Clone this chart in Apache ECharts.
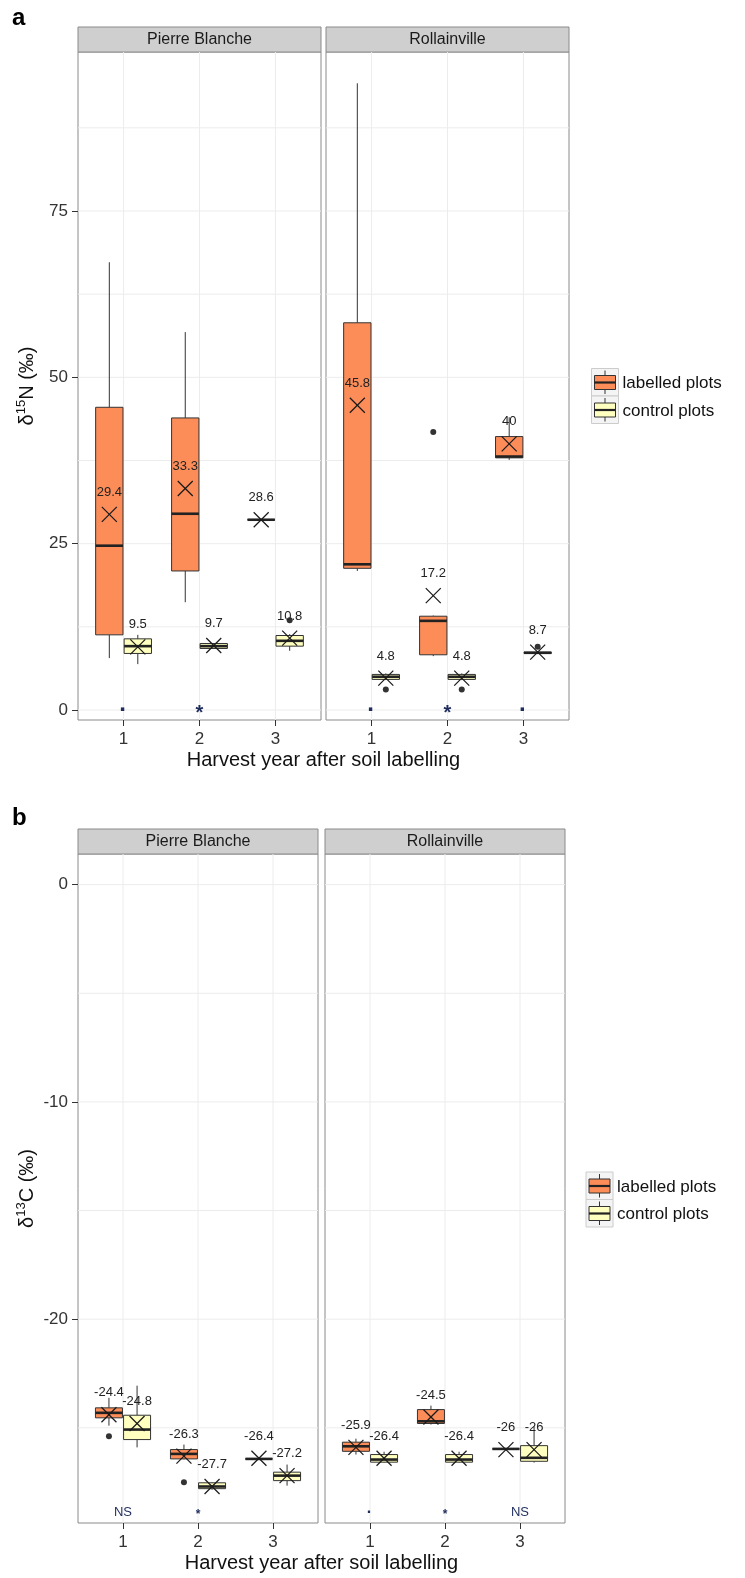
<!DOCTYPE html>
<html>
<head>
<meta charset="utf-8">
<script src="https://cdn.jsdelivr.net/npm/echarts@6/dist/echarts.min.js"></script>
<style>html,body{margin:0;padding:0;background:#fff}#c{width:745px;height:1578px}</style>
</head>
<body>
<div id="c"></div>
<script>
// ---------------- DATA ----------------
const years = [1, 2, 3];
const facets = ['Pierre Blanche', 'Rollainville'];
const groups = ['labelled plots', 'control plots'];
const xTitle = 'Harvest year after soil labelling';

// d15N boxes: [min, q1, median, q3, max] per year
const n15LabelledPB = [[7.8, 11.3, 24.7, 45.5, 67.3], [16.2, 20.9, 29.5, 43.9, 56.8], [28.6, 28.6, 28.6, 28.6, 28.6]];
const n15ControlPB  = [[6.9, 8.5, 9.6, 10.7, 11.3], [9.2, 9.25, 9.6, 10.0, 10.05], [8.9, 9.6, 10.4, 11.2, 11.4]];
const n15LabelledRO = [[20.9, 21.3, 21.9, 58.2, 94.2], [8.1, 8.3, 13.4, 14.1, 14.2], [37.6, 37.9, 38.1, 41.1, 44.0]];
const n15ControlRO  = [[4.5, 4.6, 5.0, 5.35, 5.5], [4.5, 4.6, 5.0, 5.35, 5.5], [8.5, 8.5, 8.6, 8.7, 8.8]];
// d15N outliers: [year, value]
const n15OutLabelledPB = [];
const n15OutControlPB  = [[3, 13.5]];
const n15OutLabelledRO = [[2, 41.8]];
const n15OutControlRO  = [[1, 3.1], [2, 3.1], [3, 9.5]];
// d15N means
const n15MeanLabelledPB = [29.4, 33.3, 28.6];
const n15MeanControlPB  = [9.5, 9.7, 10.8];
const n15MeanLabelledRO = [45.8, 17.2, 40];
const n15MeanControlRO  = [4.8, 4.8, 8.7];
// d15N significance marks
const n15SigPB = ['.', '*', ''];
const n15SigRO = ['.', '*', '.'];
const n15SigY = 0;

// d13C boxes
const c13LabelledPB = [[-24.9, -24.54, -24.31, -24.08, -23.62], [-26.45, -26.43, -26.2, -26.0, -25.77], [-26.43, -26.43, -26.43, -26.43, -26.43]];
const c13ControlPB  = [[-25.9, -25.54, -25.08, -24.42, -23.06], [-27.85, -27.8, -27.7, -27.53, -27.5], [-27.66, -27.43, -27.2, -27.04, -26.69]];
const c13LabelledRO = [[-26.23, -26.08, -25.85, -25.66, -25.5], [-24.85, -24.8, -24.7, -24.16, -23.98], [-25.97, -25.97, -25.97, -25.97, -25.97]];
const c13ControlRO  = [[-26.6, -26.58, -26.46, -26.23, -26.1], [-26.6, -26.58, -26.46, -26.23, -26.1], [-26.6, -26.54, -26.38, -25.82, -24.93]];
const c13OutLabelledPB = [[1, -25.39], [2, -27.5]];
const c13OutControlPB  = [];
const c13OutLabelledRO = [];
const c13OutControlRO  = [];
const c13MeanLabelledPB = [-24.4, -26.3, -26.4];
const c13MeanControlPB  = [-24.8, -27.7, -27.2];
const c13MeanLabelledRO = [-25.9, -24.5, -26];
const c13MeanControlRO  = [-26.4, -26.4, -26];
const c13SigPB = ['NS', '*', ''];
const c13SigRO = ['.', '*', 'NS'];
const c13SigY = -28.9;

// axis ticks / gridlines
const n15Ticks = [0, 25, 50, 75];
const n15Grid = [0, 12.5, 25, 37.5, 50, 62.5, 75, 87.5];
const c13Ticks = [-20, -10, 0];
const c13Grid = [-25, -20, -15, -10, -5, 0];
const xTicks = [1, 2, 3];

// ---------------- STYLE ----------------
const FONT = '"Liberation Sans", Arial, Helvetica, sans-serif';
const COL_L = '#FC8D59', COL_C = '#FFFFBF';
const DODGE = 0.1875, HALF = 0.18;

const chart = echarts.init(document.getElementById('c'), null, {renderer: 'canvas'});

const grids = [
  {left: 78, top: 52, width: 243, height: 668},
  {left: 326, top: 52, width: 243, height: 668},
  {left: 78, top: 854, width: 240, height: 669},
  {left: 325, top: 854, width: 240, height: 669}
].map(g => Object.assign(g, {show: true, borderColor: '#8a8a8a', borderWidth: 1, backgroundColor: '#fff', containLabel: false}));

const xAxes = grids.map((g, i) => ({
  type: 'value', gridIndex: i, min: 0.4, max: 3.6, position: 'bottom',
  axisLine: {show: false, onZero: false},
  axisTick: {show: true, customValues: xTicks, length: 6, lineStyle: {color: '#333'}},
  axisLabel: {customValues: xTicks, fontSize: 17, color: '#333', fontFamily: FONT, margin: 11},
  splitLine: {show: false}
}));

function yAx(i, min, max, ticks, showLabels, name) {
  const o = {
    type: 'value', gridIndex: i, min: min, max: max, position: 'left',
    axisLine: {show: false, onZero: false},
    axisTick: {show: showLabels, customValues: ticks, length: 6, lineStyle: {color: '#333'}},
    axisLabel: {show: showLabels, customValues: ticks, fontSize: 17, color: '#333', fontFamily: FONT, margin: 10},
    splitLine: {show: false}
  };
  if (name) {
    o.name = name;
    o.nameLocation = 'middle';
    o.nameRotate = 90;
    o.nameGap = 38;
    o.nameTextStyle = {
      fontFamily: FONT, color: '#111',
      rich: {
        a: {fontSize: 20, fontFamily: FONT, color: '#111'},
        s: {fontSize: 13, fontFamily: FONT, color: '#111', verticalAlign: 'top', padding: [0, 0, 12, 0]}
      }
    };
  }
  return o;
}
const yAxes = [
  yAx(0, -1.5, 98.9, n15Ticks, true, '{a|δ}{s|15}{a|N (‰)}'),
  yAx(1, -1.5, 98.9, n15Ticks, false),
  yAx(2, -29.38, 1.41, c13Ticks, true, '{a|δ}{s|13}{a|C (‰)}'),
  yAx(3, -29.38, 1.41, c13Ticks, false)
];

// ---------------- SERIES BUILDERS ----------------
function gridLineSeries(gi, yVals) {
  const data = yVals.map(v => [2, v, 0]).concat(xTicks.map(x => [x, 0, 1]));
  return {
    type: 'custom', xAxisIndex: gi, yAxisIndex: gi, z: 1, silent: true,
    data: data,
    renderItem: function (params, api) {
      const cs = params.coordSys;
      const kind = api.value(2);
      if (kind === 0) {
        const p = api.coord([2, api.value(1)]);
        return {type: 'line', shape: {x1: cs.x, y1: p[1], x2: cs.x + cs.width, y2: p[1]}, style: {stroke: '#ececec', lineWidth: 1}};
      }
      const p = api.coord([api.value(0), 0]);
      return {type: 'line', shape: {x1: p[0], y1: cs.y, x2: p[0], y2: cs.y + cs.height}, style: {stroke: '#ececec', lineWidth: 1}};
    }
  };
}

function boxSeries(gi, name, boxes, offset, fill) {
  return {
    type: 'custom', name: name, xAxisIndex: gi, yAxisIndex: gi, z: 3, silent: true,
    data: boxes.map((b, i) => [years[i]].concat(b)),
    renderItem: function (params, api) {
      const x = api.value(0) + offset;
      const mn = api.value(1), q1 = api.value(2), md = api.value(3), q3 = api.value(4), mx = api.value(5);
      const tl = api.coord([x - HALF, q3]);
      const br = api.coord([x + HALF, q1]);
      const c = api.coord([x, md]);
      const top = api.coord([x, mx]);
      const bot = api.coord([x, mn]);
      const ml = api.coord([x - HALF, md]);
      const mr = api.coord([x + HALF, md]);
      return {
        type: 'group', children: [
          {type: 'line', shape: {x1: c[0], y1: top[1], x2: c[0], y2: tl[1]}, style: {stroke: '#333', lineWidth: 1}},
          {type: 'line', shape: {x1: c[0], y1: br[1], x2: c[0], y2: bot[1]}, style: {stroke: '#333', lineWidth: 1}},
          {type: 'rect', shape: {x: tl[0], y: tl[1], width: br[0] - tl[0], height: br[1] - tl[1]}, style: {fill: fill, stroke: '#333', lineWidth: 1}},
          {type: 'line', shape: {x1: ml[0], y1: ml[1], x2: mr[0], y2: mr[1]}, style: {stroke: '#222', lineWidth: 2.6}}
        ]
      };
    }
  };
}

function outlierSeries(gi, pts, offset) {
  return {
    type: 'custom', xAxisIndex: gi, yAxisIndex: gi, z: 4, silent: true,
    data: pts,
    renderItem: function (params, api) {
      const p = api.coord([api.value(0) + offset, api.value(1)]);
      return {type: 'circle', shape: {cx: p[0], cy: p[1], r: 3}, style: {fill: '#333'}};
    }
  };
}

function meanSeries(gi, means, offset) {
  return {
    type: 'custom', xAxisIndex: gi, yAxisIndex: gi, z: 5, silent: true,
    data: means.map((m, i) => [years[i], m]),
    renderItem: function (params, api) {
      const v = api.value(1);
      const p = api.coord([api.value(0) + offset, v]);
      const s = 7.5;
      return {
        type: 'group', children: [
          {type: 'line', shape: {x1: p[0] - s, y1: p[1] - s, x2: p[0] + s, y2: p[1] + s}, style: {stroke: '#1a1a1a', lineWidth: 1.2}},
          {type: 'line', shape: {x1: p[0] - s, y1: p[1] + s, x2: p[0] + s, y2: p[1] - s}, style: {stroke: '#1a1a1a', lineWidth: 1.2}},
          {type: 'text', style: {text: String(v), x: p[0], y: p[1] - 22, textAlign: 'center', textVerticalAlign: 'middle', fill: '#222', font: '13px ' + FONT}}
        ]
      };
    }
  };
}

function sigSeries(gi, marks, yv, starSize) {
  return {
    type: 'custom', xAxisIndex: gi, yAxisIndex: gi, z: 5, silent: true,
    data: marks.map((m, i) => [years[i], yv, i]),
    renderItem: function (params, api) {
      const m = marks[api.value(2)];
      if (!m) return null;
      const p = api.coord([api.value(0), api.value(1)]);
      let size = 13, dy = 0, wt = '';
      if (m === '*') { size = starSize; dy = starSize > 14 ? 3 : 2; wt = 'bold '; }
      if (m === '.') { size = starSize > 14 ? 24 : 16; dy = starSize > 14 ? -6 : -4; wt = 'bold '; }
      return {type: 'text', style: {text: m, x: p[0] - (m === '.' ? 1 : 0), y: p[1] + dy, textAlign: 'center', textVerticalAlign: 'middle', fill: '#1f2d5c', font: wt + size + 'px ' + FONT}};
    }
  };
}

const series = [];
function addPanel(gi, gridVals, lab, con, outL, outC, meanL, meanC, sig, sigY, star) {
  series.push(gridLineSeries(gi, gridVals));
  series.push(boxSeries(gi, groups[0], lab, -DODGE, COL_L));
  series.push(boxSeries(gi, groups[1], con, DODGE, COL_C));
  series.push(outlierSeries(gi, outL, -DODGE));
  series.push(outlierSeries(gi, outC, DODGE));
  series.push(meanSeries(gi, meanL, -DODGE));
  series.push(meanSeries(gi, meanC, DODGE));
  series.push(sigSeries(gi, sig, sigY, star));
}
addPanel(0, n15Grid, n15LabelledPB, n15ControlPB, n15OutLabelledPB, n15OutControlPB, n15MeanLabelledPB, n15MeanControlPB, n15SigPB, n15SigY, 20);
addPanel(1, n15Grid, n15LabelledRO, n15ControlRO, n15OutLabelledRO, n15OutControlRO, n15MeanLabelledRO, n15MeanControlRO, n15SigRO, n15SigY, 20);
addPanel(2, c13Grid, c13LabelledPB, c13ControlPB, c13OutLabelledPB, c13OutControlPB, c13MeanLabelledPB, c13MeanControlPB, c13SigPB, c13SigY, 12);
addPanel(3, c13Grid, c13LabelledRO, c13ControlRO, c13OutLabelledRO, c13OutControlRO, c13MeanLabelledRO, c13MeanControlRO, c13SigRO, c13SigY, 12);

// ---------------- GRAPHIC (strips, titles, legends) ----------------
const graphic = [];
function strip(g, top, text) {
  graphic.push({type: 'rect', shape: {x: g.left, y: top, width: g.width, height: 25}, style: {fill: '#cfcfcf', stroke: '#8a8a8a', lineWidth: 1}, silent: true});
  graphic.push({type: 'text', style: {text: text, x: g.left + g.width / 2, y: top + 13, textAlign: 'center', textVerticalAlign: 'middle', fill: '#1a1a1a', font: '16px ' + FONT}, silent: true});
}
strip(grids[0], 27, facets[0]);
strip(grids[1], 27, facets[1]);
strip(grids[2], 829, facets[0]);
strip(grids[3], 829, facets[1]);

graphic.push({type: 'text', style: {text: 'a', x: 12, y: 18, textAlign: 'left', textVerticalAlign: 'middle', fill: '#000', font: 'bold 24px ' + FONT}});
graphic.push({type: 'text', style: {text: 'b', x: 12, y: 818, textAlign: 'left', textVerticalAlign: 'middle', fill: '#000', font: 'bold 24px ' + FONT}});
graphic.push({type: 'text', style: {text: xTitle, x: 323.5, y: 760, textAlign: 'center', textVerticalAlign: 'middle', fill: '#111', font: '20px ' + FONT}});
graphic.push({type: 'text', style: {text: xTitle, x: 321.5, y: 1563, textAlign: 'center', textVerticalAlign: 'middle', fill: '#111', font: '20px ' + FONT}});

function legend(x, y) {
  [COL_L, COL_C].forEach((col, i) => {
    const ky = y + i * 27.5;
    graphic.push({type: 'rect', shape: {x: x, y: ky, width: 27, height: 27.5}, style: {fill: '#f4f4f4', stroke: '#cccccc', lineWidth: 1}});
    graphic.push({type: 'line', shape: {x1: x + 13.5, y1: ky + 2, x2: x + 13.5, y2: ky + 25.5}, style: {stroke: '#333', lineWidth: 1}});
    graphic.push({type: 'rect', shape: {x: x + 3, y: ky + 7, width: 21, height: 14}, style: {fill: col, stroke: '#333', lineWidth: 1}});
    graphic.push({type: 'line', shape: {x1: x + 3, y1: ky + 14, x2: x + 24, y2: ky + 14}, style: {stroke: '#222', lineWidth: 2.2}});
    graphic.push({type: 'text', style: {text: groups[i], x: x + 31, y: ky + 15, textAlign: 'left', textVerticalAlign: 'middle', fill: '#111', font: '17px ' + FONT}});
  });
}
legend(591.5, 368.5);
legend(586, 1172);

chart.setOption({
  animation: false,
  backgroundColor: '#fff',
  textStyle: {fontFamily: FONT},
  grid: grids,
  xAxis: xAxes,
  yAxis: yAxes,
  series: series,
  graphic: graphic
});
</script>
</body>
</html>
